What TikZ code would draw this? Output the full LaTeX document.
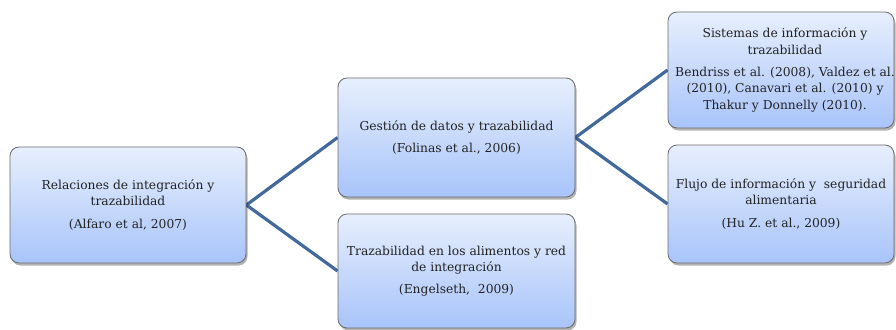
\documentclass[tikz,border=0pt]{standalone}
\usepackage{fontspec}
\setmainfont{DejaVu Serif}
\usetikzlibrary{shadows,backgrounds}
\definecolor{topc}{HTML}{E7EFFD}
\definecolor{botc}{HTML}{A8C4FA}
\definecolor{edgec}{HTML}{6B6B6B}
\definecolor{linec}{HTML}{41699B}
\definecolor{textc}{HTML}{222222}
\begin{document}
\begin{tikzpicture}[x=1pt,y=-1pt,
  boxtext/.style={align=center, inner sep=0pt, text=textc,
    font=\fontsize{12.3}{16.3}\selectfont},
  boxn/.style={boxtext, draw=edgec, line width=0.8pt, rounded corners=9pt,
    top color=topc, bottom color=botc,
    drop shadow={shadow xshift=1.5pt, shadow yshift=-2.5pt, fill=black, opacity=0.3}},
  conn/.style={draw=linec, line width=3.2pt, line join=miter}]
\useasboundingbox (0,0) rectangle (896,329);
\node[boxn, minimum width=236pt, minimum height=116pt] (A) at (128,205)
  {Relaciones de integración y\\trazabilidad\\[6pt](Alfaro et al, 2007)};
\node[boxn, minimum width=237pt, minimum height=119pt] (B) at (456.5,137.5)
  {Gestión de datos y trazabilidad\\[6pt](Folinas et al., 2006)};
\node[boxn, minimum width=237pt, minimum height=114pt] (C) at (456.5,271)
  {Trazabilidad en los alimentos y red\\de integración\\[6pt](Engelseth,\ \ 2009)};
\node[boxn, minimum width=226pt, minimum height=116pt,
  label={[boxtext, xshift=4pt]center:{Sistemas de información y\\trazabilidad\\[6pt]Bendriss et al. (2008), Valdez et al.\\(2010), Canavari et al. (2010) y\\Thakur y Donnelly (2010).}}] (D) at (781,70) {};
\node[boxn, minimum width=226pt, minimum height=118pt] (E) at (781,204)
  {Flujo de información y\ \ seguridad\\alimentaria\\[6pt](Hu Z. et al., 2009)};
\begin{scope}[on background layer]
\draw[conn] (B.west) -- (A.east) -- (C.west);
\draw[conn] (D.west) -- (B.east) -- (E.west);
\end{scope}
\end{tikzpicture}
\end{document}
